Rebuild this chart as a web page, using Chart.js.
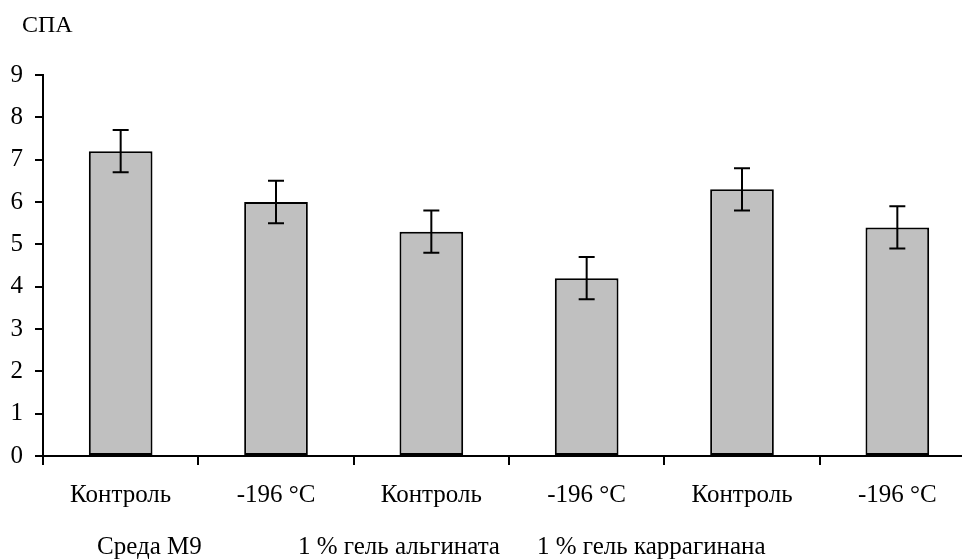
<!DOCTYPE html>
<html>
<head>
<meta charset="utf-8">
<script src="https://cdn.jsdelivr.net/npm/chart.js@4"></script>
<style>
  html, body { margin: 0; padding: 0; background: #fff; overflow: hidden; }
  canvas { display: block; }
</style>
</head>
<body>
<canvas id="spaChart" width="980" height="559"></canvas>
<script>
const categories = ["Контроль", "-196 °C", "Контроль", "-196 °C", "Контроль", "-196 °C"];
const values = [7.2, 6.0, 5.3, 4.2, 6.3, 5.4];
const errors = [0.5, 0.5, 0.5, 0.5, 0.5, 0.5];
const groupLabels = ["Среда М9", "1 % гель альгината", "1 % гель каррагинана"];
const yTicks = [0, 1, 2, 3, 4, 5, 6, 7, 8, 9];
const yTitle = "СПА";

document.addEventListener("DOMContentLoaded", function () {
  const ctx = document.getElementById("spaChart").getContext("2d");
  const fontFamily = "'Liberation Serif', 'Times New Roman', serif";

  // усы погрешностей
  const errorBars = {
    id: "errorBars",
    afterDatasetsDraw(chart) {
      const meta = chart.getDatasetMeta(0);
      const y = chart.scales.y;
      const c = chart.ctx;
      c.save();
      c.strokeStyle = "#000";
      c.lineWidth = 2;
      meta.data.forEach((bar, i) => {
        const top = y.getPixelForValue(values[i] + errors[i]);
        const bottom = y.getPixelForValue(values[i] - errors[i]);
        c.beginPath();
        c.moveTo(bar.x, top);
        c.lineTo(bar.x, bottom);
        c.moveTo(bar.x - 8, top);
        c.lineTo(bar.x + 8, top);
        c.moveTo(bar.x - 8, bottom);
        c.lineTo(bar.x + 8, bottom);
        c.stroke();
      });
      c.restore();
    },
  };

  // подпись оси и групп
  const extraText = {
    id: "extraText",
    afterDraw(chart) {
      const c = chart.ctx;
      c.save();
      c.fillStyle = "#000";
      c.font = "24px " + fontFamily;
      c.textBaseline = "middle";
      c.textAlign = "left";
      c.fillText(yTitle, 22, 26);
      c.font = "25px " + fontFamily;
      const starts = [97, 298, 537];
      groupLabels.forEach((t, i) => c.fillText(t, starts[i], 547));
      c.restore();
    },
  };

  new Chart(ctx, {
    type: "bar",
    data: {
      labels: categories,
      datasets: [
        {
          data: values,
          backgroundColor: "#c0c0c0",
          borderColor: "#000",
          borderWidth: 2,
          borderSkipped: false,
          barPercentage: 0.41,
          categoryPercentage: 1,
        },
      ],
    },
    options: {
      responsive: false,
      animation: false,
      layout: { padding: { top: 75, right: 5, left: 0, bottom: 0 } },
      plugins: {
        legend: { display: false },
        tooltip: { enabled: false },
      },
      scales: {
        x: {
          afterFit: (scale) => { scale.height = 103; },
          grid: {
            offset: true,
            drawOnChartArea: false,
            tickLength: 9,
            color: "#000",
            lineWidth: 2,
          },
          border: { color: "#000", width: 2 },
          ticks: {
            color: "#000",
            padding: 15,
            maxRotation: 0,
            font: { family: fontFamily, size: 25 },
          },
        },
        y: {
          min: 0,
          max: 9,
          afterFit: (scale) => { scale.width = 43; },
          afterBuildTicks: (scale) => { scale.ticks = yTicks.map((v) => ({ value: v })); },
          grid: {
            drawOnChartArea: false,
            tickLength: 8,
            color: "#000",
            lineWidth: 2,
          },
          border: { color: "#000", width: 2 },
          ticks: {
            color: "#000",
            padding: 12,
            font: { family: fontFamily, size: 25 },
          },
        },
      },
    },
    plugins: [errorBars, extraText],
  });
});
</script>
</body>
</html>
